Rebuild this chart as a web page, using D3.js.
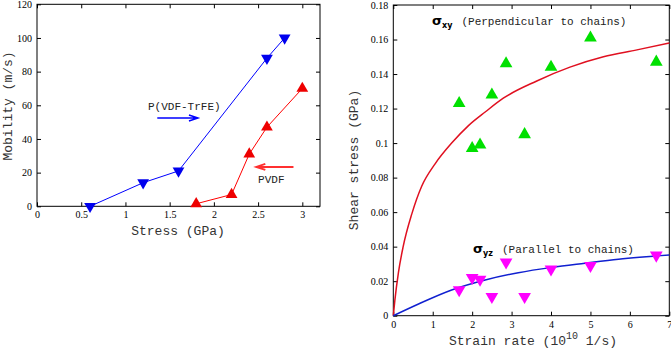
<!DOCTYPE html>
<html>
<head>
<meta charset="utf-8">
<script src="https://cdn.jsdelivr.net/npm/d3@7"></script>
<style>
  body { margin: 0; background: #fff; }
  svg { display: block; }
  .tick text { font-family: "Liberation Serif", "DejaVu Serif", serif; font-size: 10px; fill: #000; }
  .tick line { stroke: #000; }
  .lbl { font-family: "Liberation Mono", "DejaVu Sans Mono", monospace; font-size: 13px; fill: #333; }
  .note { font-family: "Liberation Mono", "DejaVu Sans Mono", monospace; font-size: 11px; fill: #222; }
</style>
</head>
<body>
<div id="chart"></div>
<script>
// mobility vs stress
const stressTrFE = [0.6, 1.2, 1.6, 2.6, 2.8];
const mobilityTrFE = [0, 14, 21, 88, 100];
const stressPVDF = [1.8, 2.2, 2.4, 2.6, 3.0];
const mobilityPVDF = [1.5, 7, 31, 47, 70];
const leftXTicks = [0, 0.5, 1, 1.5, 2, 2.5, 3];
const leftYTicks = [0, 20, 40, 60, 80, 100, 120];

// shear stress vs strain rate
const rateMD = [1.67, 2.0, 2.2, 2.5, 2.86, 3.33, 4.0, 5.0, 6.67];
const sigmaXY = [0.123, 0.097, 0.099, 0.128, 0.146, 0.105, 0.144, 0.161, 0.147];
const sigmaYZ = [0.015, 0.022, 0.021, 0.011, 0.031, 0.011, 0.027, 0.029, 0.035];
const fitXYRate = [0, 0.04, 0.13, 0.25, 0.47, 0.72, 1.06, 1.48, 1.9, 2.33, 2.79, 3.64, 4.48, 5.33, 6.18, 7.0];
const fitXY = [0, 0.009, 0.025, 0.040, 0.059, 0.075, 0.088, 0.100, 0.110, 0.118, 0.126, 0.136, 0.144, 0.150, 0.154, 0.158];
const fitYZRate = [0, 0.64, 1.48, 2.33, 3.17, 4.02, 4.86, 5.71, 7.0];
const fitYZ = [0, 0.0068, 0.0149, 0.0207, 0.0249, 0.028, 0.0304, 0.0327, 0.0352];
const rightXTicks = [0, 1, 2, 3, 4, 5, 6, 7];
const rightYTicks = [0, 0.02, 0.04, 0.06, 0.08, 0.1, 0.12, 0.14, 0.16, 0.18];

const w = 671, h = 348;

const svg = d3.select("#chart").append("svg")
  .attr("width", w)
  .attr("height", h);

const fmt = d => String(+d.toFixed(2));

function frame(x, y, xt, yt) {
  const g = svg.append("g");
  const [x0, x1] = x.range(), [y0, y1] = y.range();
  g.append("g").attr("transform", "translate(0," + y0 + ")")
    .call(d3.axisBottom(x).tickValues(xt).tickFormat(fmt).tickSize(-4).tickPadding(5).tickSizeOuter(0))
    .call(a => a.select(".domain").remove());
  g.append("g").attr("transform", "translate(0," + y1 + ")")
    .call(d3.axisTop(x).tickValues(xt).tickFormat("").tickSize(-4).tickSizeOuter(0))
    .call(a => a.select(".domain").remove());
  g.append("g").attr("transform", "translate(" + x0 + ",0)")
    .call(d3.axisLeft(y).tickValues(yt).tickFormat(fmt).tickSize(-4).tickPadding(5).tickSizeOuter(0))
    .call(a => a.select(".domain").remove());
  g.append("g").attr("transform", "translate(" + x1 + ",0)")
    .call(d3.axisRight(y).tickValues(yt).tickFormat("").tickSize(-4).tickSizeOuter(0))
    .call(a => a.select(".domain").remove());
  g.append("rect")
    .attr("x", x0).attr("y", y1)
    .attr("width", x1 - x0).attr("height", y0 - y1)
    .attr("fill", "none").attr("stroke", "#000");
}

function markers(x, y, xs, ys, color, down, size) {
  svg.append("g").selectAll("path")
    .data(xs)
    .enter().append("path")
    .attr("d", d3.symbol(d3.symbolTriangle, size))
    .attr("transform", (d, i) => "translate(" + x(d) + "," + y(ys[i]) + ")" + (down ? " rotate(180)" : ""))
    .attr("fill", color);
}

function line(x, y, xs, ys, color, width, curve) {
  svg.append("path")
    .datum(xs.map((d, i) => [d, ys[i]]))
    .attr("d", d3.line().x(d => x(d[0])).y(d => y(d[1])).curve(curve || d3.curveLinear))
    .attr("fill", "none")
    .attr("stroke", color)
    .attr("stroke-width", width);
}

function arrow(x, y, from, to, yv, color, width) {
  const xa = x(from), xb = x(to), yy = y(yv);
  const dir = xb > xa ? -1 : 1;
  svg.append("path")
    .attr("d", "M" + xa + "," + yy + "H" + xb +
      "M" + (xb + dir * 9) + "," + (yy - 3) + "L" + xb + "," + yy + "L" + (xb + dir * 9) + "," + (yy + 3))
    .attr("fill", "none")
    .attr("stroke", color)
    .attr("stroke-width", width);
}

// left panel
const xL = d3.scaleLinear().domain([0, 3.2]).range([37, 320]);
const yL = d3.scaleLinear().domain([0, 120]).range([206.3, 4.3]);
frame(xL, yL, leftXTicks, leftYTicks);

line(xL, yL, stressTrFE, mobilityTrFE, "#0000ff", 1);
line(xL, yL, stressPVDF, mobilityPVDF, "#ff0000", 1);
markers(xL, yL, stressTrFE, mobilityTrFE, "#0000ee", true, 60);
markers(xL, yL, stressPVDF, mobilityPVDF, "#ee0000", false, 60);

svg.append("text").attr("class", "note")
  .attr("x", xL(1.255)).attr("y", yL(57.5))
  .text("P(VDF-TrFE)");
arrow(xL, yL, 1.36, 1.82, 52.5, "#0000ff", 1.5);
svg.append("text").attr("class", "note")
  .attr("x", xL(2.5)).attr("y", yL(13.9))
  .text("PVDF");
arrow(xL, yL, 2.9, 2.48, 23.4, "#ff3030", 2);

svg.append("text").attr("class", "lbl")
  .attr("x", 178).attr("y", 235)
  .attr("text-anchor", "middle")
  .text("Stress (GPa)");
svg.append("text").attr("class", "lbl")
  .attr("transform", "translate(12,106) rotate(-90)")
  .attr("text-anchor", "middle")
  .text("Mobility (m/s)");

// right panel
const xR = d3.scaleLinear().domain([0, 7]).range([393.3, 669.3]);
const yR = d3.scaleLinear().domain([0, 0.18]).range([315.7, 5]);
frame(xR, yR, rightXTicks, rightYTicks);

line(xR, yR, fitXYRate, fitXY, "#e01020", 1.5, d3.curveMonotoneX);
line(xR, yR, fitYZRate, fitYZ, "#1020d0", 1.5, d3.curveMonotoneX);
markers(xR, yR, rateMD, sigmaXY, "#00e000", false, 70);
markers(xR, yR, rateMD, sigmaYZ, "#ff00ff", true, 70);

function sigmaLabel(xv, yv, sub, rest) {
  const t = svg.append("text").attr("x", xR(xv)).attr("y", yR(yv));
  t.append("tspan")
    .attr("font-family", "DejaVu Sans, sans-serif").attr("font-size", 13).attr("font-weight", "bold")
    .text("σ");
  t.append("tspan")
    .attr("font-family", "DejaVu Sans, sans-serif").attr("font-size", 8).attr("font-weight", "bold").attr("dy", 3)
    .text(sub);
  t.append("tspan").attr("class", "note").attr("dy", -3).attr("dx", 9)
    .text(rest);
}
sigmaLabel(0.98, 0.1685, "xy", "(Perpendicular to chains)");
sigmaLabel(2.02, 0.0365, "yz", "(Parallel to chains)");

const xlab = svg.append("text").attr("class", "lbl")
  .attr("x", 533).attr("y", 345)
  .attr("text-anchor", "middle");
xlab.append("tspan").text("Strain rate (10");
xlab.append("tspan").attr("dy", -6).attr("font-size", 10).text("10");
xlab.append("tspan").attr("dy", 6).text(" 1/s)");
svg.append("text").attr("class", "lbl")
  .attr("transform", "translate(358,160) rotate(-90)")
  .attr("text-anchor", "middle")
  .text("Shear stress (GPa)");
</script>
</body>
</html>
